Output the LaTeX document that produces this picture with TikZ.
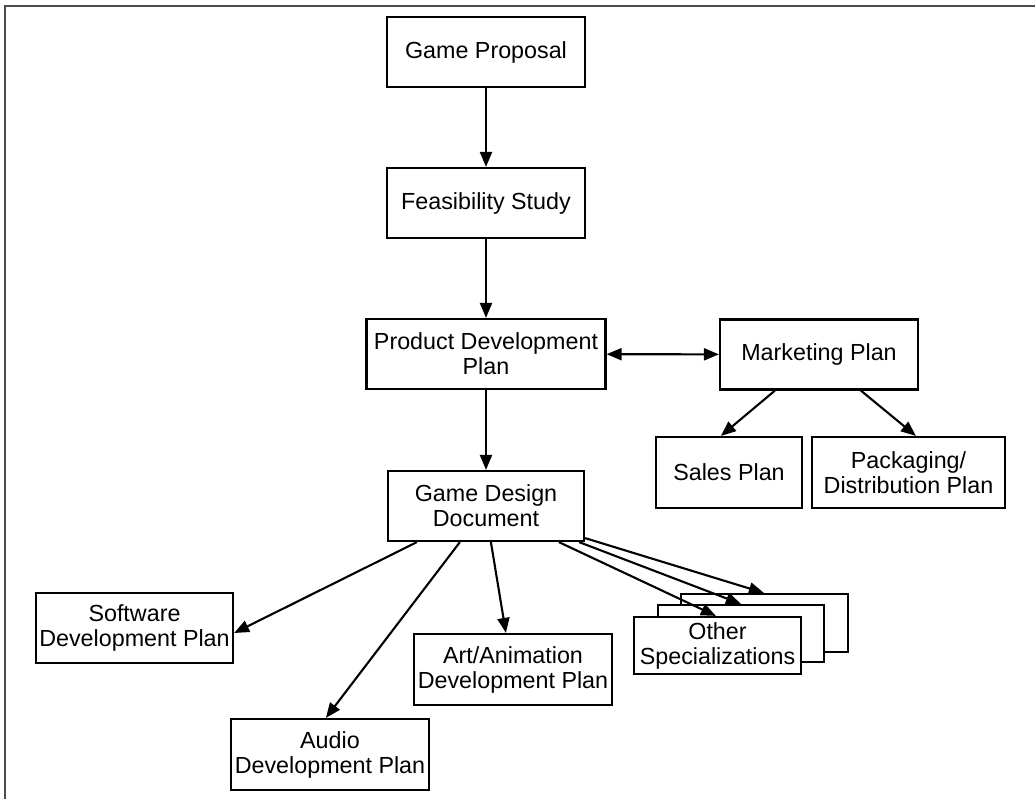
\documentclass[tikz,border=0pt]{standalone}
\usepackage{fontspec}
\setmainfont{Liberation Sans}
\usetikzlibrary{arrows.meta,calc}
\begin{document}
\begin{tikzpicture}[x=1pt,y=-1pt,
  box/.style={draw=black,line width=2.2pt,fill=white,minimum width=198pt,minimum height=70pt,
    inner sep=0pt,align=center,font=\fontsize{23.3}{25}\selectfont},
  arr/.style={line width=2.1pt,-{Triangle[length=15pt,width=12pt]}},
  darr/.style={line width=2.1pt,{Triangle[length=15pt,width=12pt]}-{Triangle[length=15pt,width=12pt]}},
  frame/.style={draw=black!70,line width=2.4pt}]
\useasboundingbox (0,0) rectangle (1035,798);
\draw[frame] (5,800) -- (5,6) -- (1040,6);

\node[box] (gp) at (486,52) {Game Proposal};
\node[box] (fs) at (486,203) {Feasibility Study};
\node[box,minimum width=239pt] (pdp) at (486,354) {Product Development\\Plan};
\node[box] (mp) at (819,354.5) {Marketing Plan};
\node[box,minimum width=146pt,minimum height=71pt] (sp) at (729,472.5) {Sales Plan};
\node[box,minimum width=193pt,minimum height=71pt] (pk) at (908.5,472.5) {Packaging/\\Distribution Plan};
\node[box,minimum width=196pt] (gdd) at (486,506) {Game Design\\Document};
\node[box,minimum width=197pt] (sw) at (134.5,628) {Software\\Development Plan};
\node[box,minimum height=71pt] (art) at (513,669.5) {Art/Animation\\Development Plan};
\node[box,minimum height=71pt] (aud) at (330,754.5) {Audio\\Development Plan};
\node[box,minimum width=167pt,minimum height=58pt] (os3) at (764.5,623) {};
\node[box,minimum width=166pt,minimum height=57pt] (os2) at (741,633.5) {};
\node[box,minimum width=167pt,minimum height=57pt] (os1) at (717.5,645.5) {Other\\Specializations};

\draw[arr] (gp) -- (fs);
\draw[arr] (fs) -- (pdp);
\draw[darr] (pdp) -- (mp);
\draw[arr] (pdp) -- (gdd);

\coordinate (m1) at ($(mp.south west)+(56,0)$);
\coordinate (m2) at ($(mp.south west)+(142,0)$);
\coordinate (t1) at ($(sp.north west)+(66,0)$);
\coordinate (t2) at ($(pk.north west)+(105,0)$);
\draw[arr] (m1) -- (t1);
\draw[arr] (m2) -- (t2);

\coordinate (g1) at ($(gdd.south west)+(30,0)$);
\coordinate (g2) at ($(gdd.south west)+(73,0)$);
\coordinate (g3) at ($(gdd.south west)+(104,0)$);
\coordinate (g4) at ($(gdd.south west)+(172,0)$);
\coordinate (g5) at ($(gdd.south east)+(-6,0)$);
\coordinate (g6) at ($(gdd.south east)+(0,-4)$);
\coordinate (swt) at ($(sw.east)+(0,5)$);
\coordinate (audt) at ($(aud.north west)+(96,0)$);
\coordinate (artt) at ($(art.north west)+(93,0)$);
\coordinate (o1t) at ($(os1.north west)+(83,0)$);
\coordinate (o2t) at ($(os2.north west)+(84,0)$);
\coordinate (o3t) at ($(os3.north west)+(84,0)$);
\draw[arr] (g1) -- (swt);
\draw[arr] (g2) -- (audt);
\draw[arr] (g3) -- (artt);
\draw[arr] (g4) -- (o1t);
\draw[arr] (g5) -- (o2t);
\draw[arr] (g6) -- (o3t);
\end{tikzpicture}
\end{document}
